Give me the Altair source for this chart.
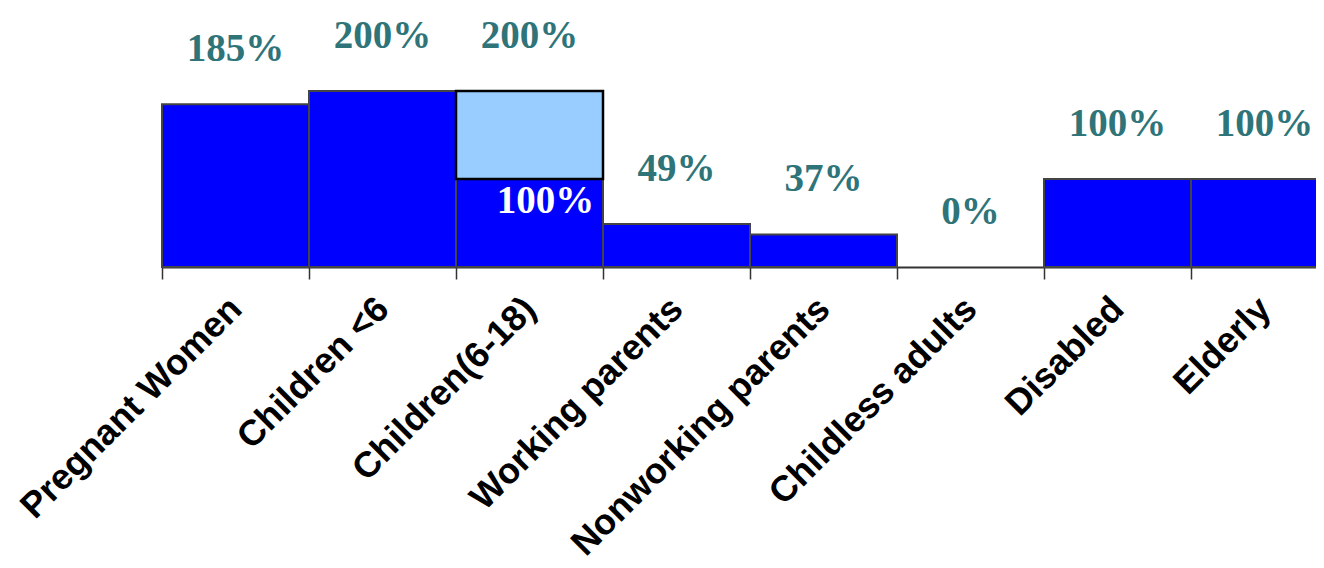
import altair as alt
import pandas as pd

categories = ["Pregnant Women", "Children <6", "Children(6-18)", "Working parents",
              "Nonworking parents", "Childless adults", "Disabled", "Elderly"]
base_values = [185, 200, 100, 49, 37, 0, 100, 100]
extra_values = [0, 0, 100, 0, 0, 0, 0, 0]
top_labels = ["185%", "200%", "200%", "49%", "37%", "0%", "100%", "100%"]
inner_labels = ["", "", "100%", "", "", "", "", ""]

base_df = pd.DataFrame({
    "cat": categories,
    "y0": [0] * len(categories),
    "y1": base_values,
})
base_df = base_df[base_df["y1"] > 0]

extra_df = pd.DataFrame({
    "cat": categories,
    "y0": base_values,
    "y1": [b + e for b, e in zip(base_values, extra_values)],
    "e": extra_values,
})
extra_df = extra_df[extra_df["e"] > 0]

label_df = pd.DataFrame({
    "cat": categories,
    "total": [b + e for b, e in zip(base_values, extra_values)],
    "label": top_labels,
})

inner_df = pd.DataFrame({
    "cat": categories,
    "pos": base_values,
    "label": inner_labels,
})
inner_df = inner_df[inner_df["label"] != ""]

x_scale = alt.Scale(paddingInner=0, paddingOuter=0, range=[0, 1176])

x_enc = alt.X(
    "cat:N",
    sort=categories,
    scale=x_scale,
    axis=alt.Axis(
        title=None,
        labelAngle=-45,
        labelAlign="right",
        labelBaseline="top",
        labelFont="Liberation Sans",
        labelFontWeight="bold",
        labelFontSize=36,
        labelColor="#000000",
        labelPadding=12,
        labelOffset=-12,
        labelLimit=600,
        domainColor="#333333",
        domainWidth=2,
        tickColor="#333333",
        tickWidth=1.5,
        tickSize=12,
        tickBand="extent",
    ),
)
y_scale = alt.Scale(domain=[0, 200])

bars = alt.Chart(base_df).mark_bar(
    color="#0000FF", stroke="#444444", strokeWidth=2
).encode(
    x=x_enc,
    y=alt.Y("y1:Q", scale=y_scale, axis=None),
    y2="y0:Q",
)

extra = alt.Chart(extra_df).mark_bar(
    color="#99CCFF", stroke="#000000", strokeWidth=2.5
).encode(
    x=alt.X("cat:N", sort=categories),
    y=alt.Y("y1:Q", scale=y_scale, axis=None),
    y2="y0:Q",
)

labels = alt.Chart(label_df).mark_text(
    font="Liberation Serif", fontWeight="bold", fontSize=39,
    color="#2E7479", dy=-55, baseline="middle", align="center"
).encode(
    x=alt.X("cat:N", sort=categories),
    y=alt.Y("total:Q", scale=y_scale, axis=None),
    text="label:N",
)

inner = alt.Chart(inner_df).mark_text(
    font="Liberation Serif", fontWeight="bold", fontSize=39,
    color="#FFFFFF", dy=22, dx=16, baseline="middle", align="center"
).encode(
    x=alt.X("cat:N", sort=categories),
    y=alt.Y("pos:Q", scale=y_scale, axis=None),
    text="label:N",
)

chart = alt.layer(bars, extra, labels, inner).properties(
    width=1154,
    height=176,
    autosize=alt.AutoSizeParams(type="none"),
    padding={"left": 154, "top": 83, "right": 0, "bottom": 300},
).configure_view(stroke=None)

chart.save("out.html", embed_options={"renderer": "svg", "actions": False})
